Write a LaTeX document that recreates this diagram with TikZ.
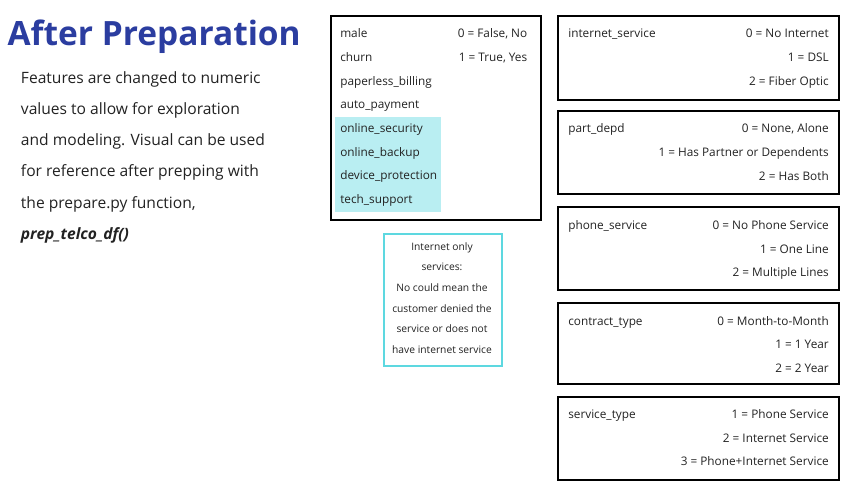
\documentclass[tikz,border=0pt]{standalone}
\usepackage{fontspec}
\setmainfont{Open Sans}
\definecolor{titleblue}{HTML}{2B3DA0}
\definecolor{hlcyan}{HTML}{B9EEF2}
\definecolor{edgecyan}{HTML}{5DD8E0}
\definecolor{ink}{HTML}{222222}
\begin{document}
\begin{tikzpicture}[x=0.75pt,y=-0.75pt,
  frame/.style={draw=black, line width=1.5pt, inner sep=0pt, anchor=north west},
  rframe/.style={frame, minimum width=210.75pt},
  lbl/.style={anchor=base west, inner sep=0pt, font=\fontsize{8.85}{10}\selectfont, text=ink},
  val/.style={anchor=base east, inner sep=0pt, font=\fontsize{8.85}{10}\selectfont, text=ink},
  body/.style={anchor=base west, inner sep=0pt, font=\fontsize{11.7}{14}\selectfont, text=ink},
  note/.style={anchor=base, inner sep=0pt, font=\fontsize{7.7}{9}\selectfont, text=ink}]
\useasboundingbox (0,0) rectangle (855,490);

% title and description
\node[anchor=base west, inner sep=0pt, font=\fontsize{25.1}{30}\selectfont\bfseries, text=titleblue] (title) at (7.3,45.7) {After Preparation};
\node[body] (d1) at (20.7,83.3) {Features are changed to numeric};
\node[body] (d2) at (20.7,114.5) {values to allow for exploration};
\node[body] (d3) at (20.7,145.7) {and modeling. Visual can be used};
\node[body] (d4) at (20.7,176.9) {for reference after prepping with};
\node[body] (d5) at (20.7,208.1) {the prepare.py function,};
\node[body, font=\fontsize{11.7}{14}\selectfont\bfseries\itshape] (d6) at (20.7,239.3) {prep\_telco\_df()};

% binary box
\node[fill=hlcyan, anchor=north west, inner sep=0pt, minimum width=79.5pt, minimum height=71.25pt] (hl) at (335,117) {};
\node[frame, minimum width=157.5pt, minimum height=153pt] (bin) at (330,15) {};
\node[lbl] (b1) at (340,37.7) {male};
\node[lbl] (b2) at (340,61.4) {churn};
\node[lbl] (b3) at (340,85.1) {paperless\_billing};
\node[lbl] (b4) at (340,108.8) {auto\_payment};
\node[lbl] (b5) at (340,132.5) {online\_security};
\node[lbl] (b6) at (340,156.2) {online\_backup};
\node[lbl] (b7) at (340,179.9) {device\_protection};
\node[lbl] (b8) at (340,203.6) {tech\_support};
\node[val] (bv0) at (527.5,37.7) {0 = False, No};
\node[val] (bv1) at (527.5,61.4) {1 = True, Yes};

% internet-only note
\node[frame, draw=edgecyan, line width=1.8pt, minimum width=88.5pt, minimum height=99pt] (netbox) at (383,233) {};
\node[note] (n1) at (442,250) {Internet only};
\node[note] (n2) at (442,270.7) {services:};
\node[note] (n3) at (442,291.4) {No could mean the};
\node[note] (n4) at (442,312.1) {customer denied the};
\node[note] (n5) at (442,332.8) {service or does not};
\node[note] (n6) at (442,353.5) {have internet service};

% right column boxes
\node[rframe, minimum height=63pt] (r1) at (557,15) {};
\node[lbl] (r1l) at (568,37.7) {internet\_service};
\node[val] (r1a) at (829,37.7) {0 = No Internet};
\node[val] (r1b) at (829,61.4) {1 = DSL};
\node[val] (r1c) at (829,85.1) {2 = Fiber Optic};

\node[rframe, minimum height=62.25pt] (r2) at (557,110) {};
\node[lbl] (r2l) at (568,132.7) {part\_depd};
\node[val] (r2a) at (829,132.7) {0 = None, Alone};
\node[val] (r2b) at (829,156.4) {1 = Has Partner or Dependents};
\node[val] (r2c) at (829,180.1) {2 = Has Both};

\node[rframe, minimum height=62.6pt] (r3) at (557,206) {};
\node[lbl] (r3l) at (568,229.5) {phone\_service};
\node[val] (r3a) at (829,229.5) {0 = No Phone Service};
\node[val] (r3b) at (829,253.2) {1 = One Line};
\node[val] (r3c) at (829,276.9) {2 = Multiple Lines};

\node[rframe, minimum height=61.1pt] (r4) at (557,302) {};
\node[lbl] (r4l) at (568,325) {contract\_type};
\node[val] (r4a) at (829,325) {0 = Month-to-Month};
\node[val] (r4b) at (829,348.7) {1 = 1 Year};
\node[val] (r4c) at (829,372.4) {2 = 2 Year};

\node[rframe, minimum height=62.6pt] (r5) at (557,396) {};
\node[lbl] (r5l) at (568,418.3) {service\_type};
\node[val] (r5a) at (829,418.3) {1 = Phone Service};
\node[val] (r5b) at (829,442) {2 = Internet Service};
\node[val] (r5c) at (829,465.7) {3 = Phone+Internet Service};
\end{tikzpicture}
\end{document}
